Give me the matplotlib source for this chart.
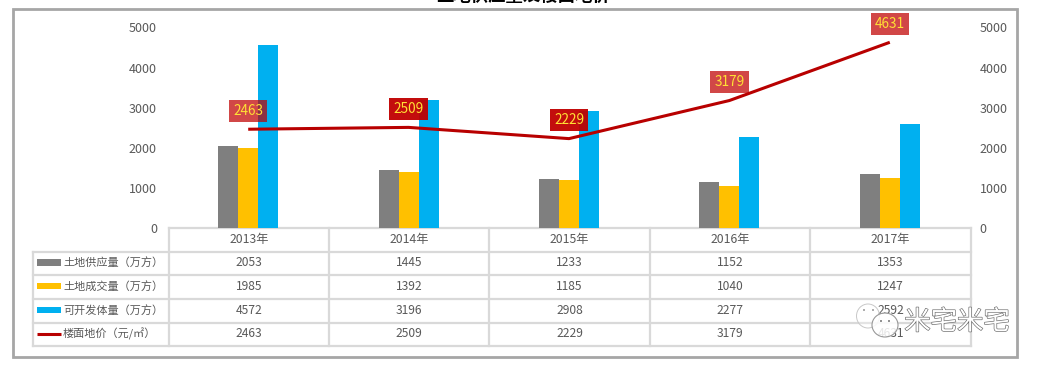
import matplotlib
matplotlib.use('Agg')
import matplotlib.pyplot as plt
import matplotlib.patheffects as pe
from matplotlib.patches import Rectangle, Ellipse

plt.rcParams['font.family'] = ['Noto Sans CJK SC', 'DejaVu Sans']

years = ['2013年', '2014年', '2015年', '2016年', '2017年']
supply = [2053, 1445, 1233, 1152, 1353]
deal = [1985, 1392, 1185, 1040, 1247]
buildable = [4572, 3196, 2908, 2277, 2592]
price = [2463, 2509, 2229, 3179, 4631]
row_names = ['土地供应量（万方）', '土地成交量（万方）', '可开发体量（万方）', '楼面地价（元/㎡）']
title = '土地供应量及楼面地价'
label_alpha = [0.72, 0.95, 0.95, 0.72, 0.72]

W, H = 1042, 368
GRAY, YELLOW, BLUE, RED = '#7f7f7f', '#ffc000', '#00b0f0', '#b80000'
TEXT = '#595959'
GRID = '#d9d9d9'

fig = plt.figure(figsize=(W / 100, H / 100), dpi=100)

# overlay in pixel coords for the frame, table and watermark
bg = fig.add_axes([0, 0, 1, 1])
bg.set_xlim(0, W)
bg.set_ylim(H, 0)
bg.axis('off')
bg.add_patch(Rectangle((12.5, 9), 1004, 347.5, fc='white', ec='#a6a6a6', lw=2))
bg.text(523, -4, title, ha='center', va='center', fontsize=12.5, fontweight='bold', color='black')

# plot area
left, right, top, bottom = 168, 970, 27.5, 228
ax = fig.add_axes([left / W, 1 - bottom / H, (right - left) / W, (bottom - top) / H])
ax.patch.set_alpha(0)
x = list(range(len(years)))
bw = 0.125
ax.bar([i - bw for i in x], supply, bw, color=GRAY)
ax.bar(x, deal, bw, color=YELLOW)
ax.bar([i + bw for i in x], buildable, bw, color=BLUE)
ax.set_xlim(-0.5, 4.5)
ax.set_ylim(0, 5000)
ax.set_xticks([])
ax.set_yticks(range(0, 5001, 1000))
ax.tick_params(axis='y', length=0, pad=8, labelsize=9, labelcolor=TEXT)
for s in ax.spines.values():
    s.set_visible(False)

ax2 = ax.twinx()
ax2.set_ylim(0, 5000)
ax2.set_yticks(range(0, 5001, 1000))
ax2.tick_params(axis='y', length=0, pad=7, labelsize=9, labelcolor=TEXT)
for s in ax2.spines.values():
    s.set_visible(False)
ax2.plot(x, price, color=RED, lw=2.2, solid_capstyle='butt')

# price labels sit in translucent red boxes above the line
for i, v in enumerate(price):
    ax2.annotate(str(v), (i, v), xytext=(0, 13.4), textcoords='offset points',
                 ha='center', va='center', color='#ffe135', fontsize=9.8, zorder=5,
                 bbox=dict(boxstyle='square,pad=0.3', fc='#c00000', ec='none', alpha=label_alpha[i]))

# table grid
row_y = [228, 252, 275, 299, 323, 346]
col_x = [169, 329, 489, 650, 810, 971]
leg_x = 33
for y in row_y:
    bg.plot([leg_x if y != 228 else 169, 971], [y, y], color=GRID, lw=1.6, solid_capstyle='projecting')
for cx in col_x:
    bg.plot([cx, cx], [228, 346], color=GRID, lw=1.6)
bg.plot([leg_x, leg_x], [252, 346], color=GRID, lw=1.6)

rows = [supply, deal, buildable, price]
for c, year in enumerate(years):
    cx = (col_x[c] + col_x[c + 1]) / 2
    bg.text(cx, 239, year, ha='center', va='center', fontsize=8.8, color=TEXT)
    for r, vals in enumerate(rows):
        bg.text(cx, (row_y[r + 1] + row_y[r + 2]) / 2 - 1, str(vals[c]), ha='center', va='center',
                fontsize=8.7, color=TEXT)

for r, name in enumerate(row_names):
    cy = (row_y[r + 1] + row_y[r + 2]) / 2 - 1
    if r < 3:
        bg.add_patch(Rectangle((37, cy - 3.2), 24, 6.5, fc=[GRAY, YELLOW, BLUE][r], ec='none'))
    else:
        bg.plot([37, 61], [cy, cy], color=RED, lw=2.2, solid_capstyle='butt')
    bg.text(63, cy, name, ha='left', va='center', fontsize=8, color=TEXT)

# watermark
wm = fig.add_axes([0, 0, 1, 1], zorder=10)
wm.set_xlim(0, W)
wm.set_ylim(H, 0)
wm.axis('off')
wm.patch.set_alpha(0)
wm.add_patch(Ellipse((868, 316), 23, 24, fc=(1, 1, 1, 0.3), ec='#c8c8c8', lw=0.7))
wm.add_patch(Ellipse((885, 325), 26, 24, fc=(1, 1, 1, 0.85), ec='#999999', lw=0.8))
for ex, ey, ec in [(864, 310, '#999999'), (873, 310, '#999999'), (881, 321, '#777777'), (889, 321, '#777777')]:
    wm.add_patch(Ellipse((ex, ey), 2, 2, fc=ec, ec='none'))
wm.text(957, 322, '米宅米宅', ha='center', va='center', fontsize=19, color='white',
        path_effects=[pe.withStroke(linewidth=0.9, foreground='#666666')])

fig.savefig('out.png', dpi=100)
